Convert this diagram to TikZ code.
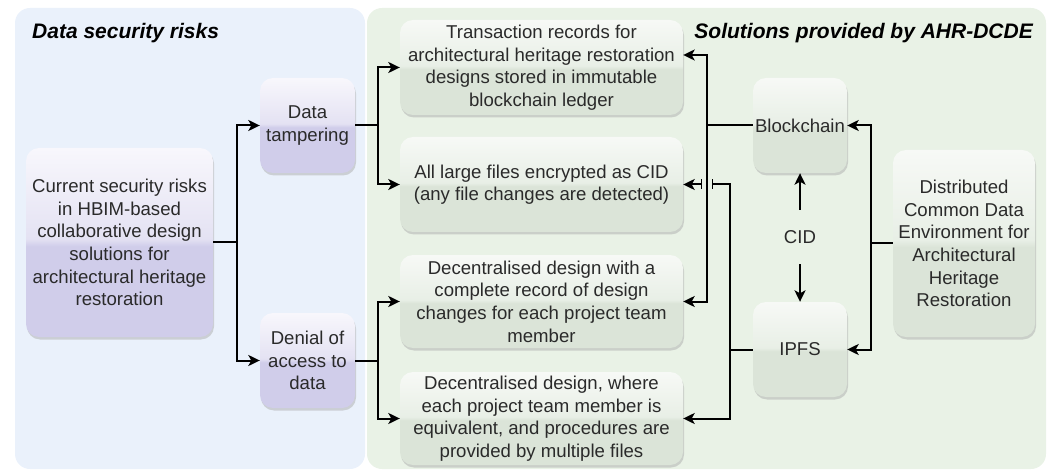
\documentclass[tikz,border=0pt]{standalone}
\usepackage{fontspec}
\setmainfont{Liberation Sans}
\usetikzlibrary{arrows.meta,shadows}

\definecolor{leftpanel}{HTML}{EAF1FB}
\definecolor{rightpanel}{HTML}{E9F2E6}
\definecolor{pbot}{HTML}{D0CDEA}
\definecolor{pmid}{HTML}{E4E2F3}
\definecolor{ptop}{HTML}{F8F7FC}
\definecolor{gbot}{HTML}{DBE4D8}
\definecolor{gmid}{HTML}{E8EFE6}
\definecolor{gtop}{HTML}{F7F9F6}
\definecolor{textgrey}{HTML}{2A2A2A}

% glossy vertical shadings: flat lower half, lighter gradient on top
\pgfdeclareverticalshading{glasspurple}{100bp}{color(0bp)=(pbot); color(49bp)=(pbot); color(51bp)=(pmid); color(75bp)=(ptop); color(100bp)=(ptop)}
\pgfdeclareverticalshading{glassgreen}{100bp}{color(0bp)=(gbot); color(49bp)=(gbot); color(51bp)=(gmid); color(75bp)=(gtop); color(100bp)=(gtop)}

\begin{document}
\begin{tikzpicture}[x=1pt,y=-1pt,
  box/.style={rounded corners=13pt, draw=none, align=center, text=textgrey,
    font=\fontsize{18.6}{22.6}\selectfont, inner sep=0pt,
    drop shadow={shadow xshift=1pt, shadow yshift=-2.5pt, fill=black!35, opacity=.45}},
  purplebox/.style={box, shading=glasspurple},
  greenbox/.style={box, shading=glassgreen},
  link/.style={line width=2pt, black},
  arr/.style={link, -{Stealth[length=11.5pt,width=11pt,inset=3pt]}},
  paneltitle/.style={font=\fontsize{21}{24}\selectfont\bfseries\itshape, inner sep=0pt}]

\useasboundingbox (0,0) rectangle (1051,470);

% background panels
\fill[leftpanel, rounded corners=15pt] (15,8) rectangle (365,469);
\fill[rightpanel, rounded corners=15pt] (367,8) rectangle (1046,469);

\node[paneltitle, anchor=base west] (lefttitle) at (32,39) {Data security risks};
\node[paneltitle, anchor=base east] (righttitle) at (1033,39) {Solutions provided by AHR-DCDE};

% risk side
\node[purplebox, minimum width=187pt, minimum height=189pt] (main) at (119.5,242.5)
  {Current security risks\\in HBIM-based\\collaborative design\\solutions for\\architectural heritage\\restoration};
\node[purplebox, minimum width=95pt, minimum height=95pt] (tamper) at (307.5,125.5)
  {Data\\tampering};
\node[purplebox, minimum width=95pt, minimum height=95pt] (denial) at (307.5,360.5)
  {Denial of\\access to\\data};

% solutions
\node[greenbox, minimum width=283pt, minimum height=95pt] (tx) at (541.5,67.5)
  {Transaction records for\\architectural heritage restoration\\designs stored in immutable\\blockchain ledger};
\node[greenbox, minimum width=283pt, minimum height=95pt] (cid) at (541.5,184.5)
  {All large files encrypted as CID\\(any file changes are detected)};
\node[greenbox, minimum width=283pt, minimum height=93pt] (dec1) at (541.5,301.5)
  {Decentralised design with a\\complete record of design\\changes for each project team\\member};
\node[greenbox, minimum width=283pt, minimum height=93pt] (dec2) at (541.5,418.5)
  {Decentralised design, where\\each project team member is\\equivalent, and procedures are\\provided by multiple files};

\node[greenbox, minimum width=94pt, minimum height=95pt] (bc) at (800,125.5) {Blockchain};
\node[greenbox, minimum width=94pt, minimum height=95pt] (ipfs) at (800,349.5) {IPFS};
\node[greenbox, minimum width=142pt, minimum height=187pt] (dcde) at (964,243.5)
  {Distributed\\Common Data\\Environment for\\Architectural\\Heritage\\Restoration};

\node[font=\fontsize{18.6}{22}\selectfont, text=textgrey, inner sep=0pt, minimum height=54pt] (cidlbl) at (800,237) {CID};

% risk tree
\path (main.east) ++(24,0) coordinate (j1);
\draw[link] (main.east) -- (j1);
\draw[arr] (j1) |- (tamper.west);
\draw[arr] (j1) |- (denial.west);

\path (tamper.east) ++(23,0) coordinate (j2);
\draw[link] (tamper.east) -- (j2);
\draw[arr] (j2) |- (tx.west);
\draw[arr] (j2) |- (cid.west);

\path (denial.east) ++(23,0) coordinate (j2b);
\draw[link] (denial.east) -- (j2b);
\draw[arr] (j2b) |- (dec1.west);
\draw[arr] (j2b) |- (dec2.west);

% blockchain links
\path (bc.west) ++(-46,0) coordinate (j3);
\draw[link] (bc.west) -- (j3);
\draw[arr] (j3) |- ([yshift=12.5pt]tx.east);
\draw[arr] (j3) |- (dec1.east);

% IPFS links, jumping over the blockchain line
\path (ipfs.west) ++(-23,0) coordinate (j4);
\path (j4 |- cid.east) coordinate (c1);
\draw[link] (ipfs.west) -- (j4) -- (c1) -- ++(-17,0) coordinate (g1);
\draw[arr] (j4) |- (dec2.east);
\path (g1) ++(-11,0) coordinate (g2);
\draw[line width=1.3pt] (g1) ++(0,-5) -- ++(0,10);
\draw[line width=1.3pt] (g2) ++(0,-5) -- ++(0,10);
\draw[arr] (g2) -- (cid.east);

% CID exchange
\draw[arr] (cidlbl.north) -- (bc.south);
\draw[arr] (cidlbl.south) -- (ipfs.north);

% distributed CDE
\path (dcde.west) ++(-22,0) coordinate (j5);
\draw[link] (dcde.west) -- (j5);
\draw[arr] (j5) |- (bc.east);
\draw[arr] (j5) |- (ipfs.east);

\end{tikzpicture}
\end{document}
